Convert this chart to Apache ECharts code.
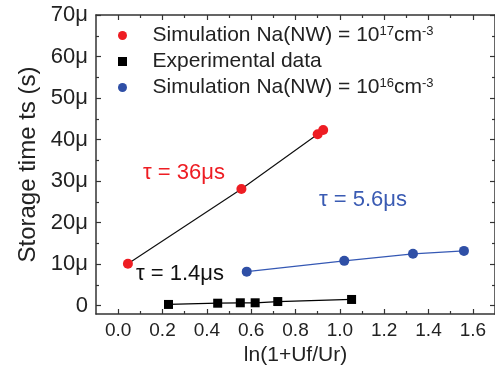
<!DOCTYPE html>
<html>
<head>
<meta charset="utf-8">
<script src="https://cdn.jsdelivr.net/npm/echarts@6/dist/echarts.min.js"></script>
<style>
  html, body { margin: 0; padding: 0; background: #fff; }
  #chart { width: 495px; height: 373px; }
</style>
</head>
<body>
<div id="chart"></div>
<script>
// values, y in microseconds
const seriesNames = ['Simulation 1e17', 'Experimental data', 'Simulation 1e16']
const redX = [0.044, 0.556, 0.900, 0.925]
const redY = [10.1, 28.1, 41.3, 42.3]
const expX = [0.227, 0.449, 0.551, 0.618, 0.720, 1.053]
const expY = [0.3, 0.6, 0.7, 0.7, 1.0, 1.5]
const blueX = [0.580, 1.020, 1.330, 1.560]
const blueY = [8.2, 10.8, 12.5, 13.2]

const xMajor = [0, 0.2, 0.4, 0.6, 0.8, 1.0, 1.2, 1.4, 1.6]
const xMinor = [0.1, 0.3, 0.5, 0.7, 0.9, 1.1, 1.3, 1.5, 1.7]
const yMajor = [0, 10, 20, 30, 40, 50, 60, 70]
const yMinor = [5, 15, 25, 35, 45, 55, 65]

const RED = '#ee1d23'
const BLUE = '#2f4fa6'
const FONT = "'Liberation Sans', Arial, sans-serif"
const AXIS = '#333'

const chart = echarts.init(document.getElementById('chart'))

const zip = (xs, ys) => xs.map((x, i) => [x, ys[i]])
const fmtY = v => (v === 0 ? '0' : v + 'μ')

// helper for the frame axes (major + minor ticks on all four sides)
const xAx = (pos, ticks, len, showLine, showLabel) => ({
  type: 'value', position: pos, min: -0.1, max: 1.7,
  axisLine: { show: showLine, onZero: false, lineStyle: { color: AXIS, width: 1.5 } },
  axisTick: { inside: true, length: len, customValues: ticks, lineStyle: { color: AXIS, width: 1.2 } },
  axisLabel: showLabel
    ? { customValues: ticks, formatter: v => v.toFixed(1), fontSize: 19, color: '#222', fontFamily: FONT, margin: 7 }
    : { show: false },
  splitLine: { show: false }
})
const yAx = (pos, ticks, len, showLine, showLabel) => ({
  type: 'value', position: pos, min: -2, max: 70,
  axisLine: { show: showLine, onZero: false, lineStyle: { color: AXIS, width: 1.5 } },
  axisTick: { inside: true, length: len, customValues: ticks, lineStyle: { color: AXIS, width: 1.2 } },
  axisLabel: showLabel
    ? { customValues: ticks, formatter: fmtY, fontSize: 22, color: '#222', fontFamily: FONT, margin: 8 }
    : { show: false },
  splitLine: { show: false }
})

const xMain = xAx('bottom', xMajor, 5, true, true)
xMain.name = 'ln(1+Uf/Ur)'
xMain.nameLocation = 'middle'
xMain.nameGap = 27
xMain.nameTextStyle = { fontSize: 21, color: '#222', fontFamily: FONT }

const yMain = yAx('left', yMajor, 5, true, true)
yMain.name = 'Storage time ts (s)'
yMain.nameLocation = 'middle'
yMain.nameGap = 56
yMain.nameMoveOverlap = false
yMain.nameTextStyle = { fontSize: 24, color: '#222', fontFamily: FONT }

const legendRich = {
  t: { fontSize: 21, color: '#222', fontFamily: FONT },
  s: { fontSize: 13, color: '#222', fontFamily: FONT, verticalAlign: 'top' }
}

const option = {
  animation: false,
  backgroundColor: '#fff',
  textStyle: { fontFamily: FONT },
  grid: { left: 96, top: 15, width: 403, height: 299, containLabel: false },
  xAxis: [
    xMain,
    xAx('bottom', xMinor, 3, false, false),
    xAx('top', xMajor, 5, true, false),
    xAx('top', xMinor, 3, false, false)
  ],
  yAxis: [
    yMain,
    yAx('left', yMinor, 3, false, false),
    yAx('right', yMajor, 5, true, false),
    yAx('right', yMinor, 3, false, false)
  ],
  legend: {
    orient: 'vertical',
    left: 113,
    top: 20,
    itemWidth: 50,
    itemHeight: 9,
    itemGap: 5,
    selectedMode: false,
    data: [
      { name: seriesNames[0], icon: 'circle', itemStyle: { color: RED } },
      { name: seriesNames[1], icon: 'path://M0,0L10,0L10,10L0,10Z', itemStyle: { color: '#000' } },
      { name: seriesNames[2], icon: 'circle', itemStyle: { color: BLUE } }
    ],
    formatter: name => {
      if (name === seriesNames[0]) return '{t|Simulation Na(NW) = 10}{s|17}{t|cm}{s|-3}'
      if (name === seriesNames[2]) return '{t|Simulation Na(NW) = 10}{s|16}{t|cm}{s|-3}'
      return '{t|Experimental data}'
    },
    textStyle: { rich: legendRich }
  },
  series: [
    {
      name: seriesNames[0], type: 'line', data: zip(redX, redY),
      symbol: 'circle', symbolSize: 10,
      itemStyle: { color: RED },
      lineStyle: { color: '#111', width: 1.2 },
      z: 3
    },
    {
      name: seriesNames[1], type: 'line', data: zip(expX, expY),
      symbol: 'rect', symbolSize: 9,
      itemStyle: { color: '#000' },
      lineStyle: { color: '#000', width: 1.2 },
      z: 3
    },
    {
      name: seriesNames[2], type: 'line', data: zip(blueX, blueY),
      symbol: 'circle', symbolSize: 10,
      itemStyle: { color: BLUE },
      lineStyle: { color: '#3558b4', width: 1.2 },
      z: 3
    }
  ],
  graphic: [
    { type: 'text', left: 143, top: 162, style: { text: 'τ = 36μs', fill: RED, fontSize: 22, fontFamily: FONT } },
    { type: 'text', left: 136, top: 263, style: { text: 'τ = 1.4μs', fill: '#111', fontSize: 22, fontFamily: FONT } },
    { type: 'text', left: 319, top: 189, style: { text: 'τ = 5.6μs', fill: '#3a5bb3', fontSize: 22, fontFamily: FONT } }
  ]
}

chart.setOption(option)
</script>
</body>
</html>
